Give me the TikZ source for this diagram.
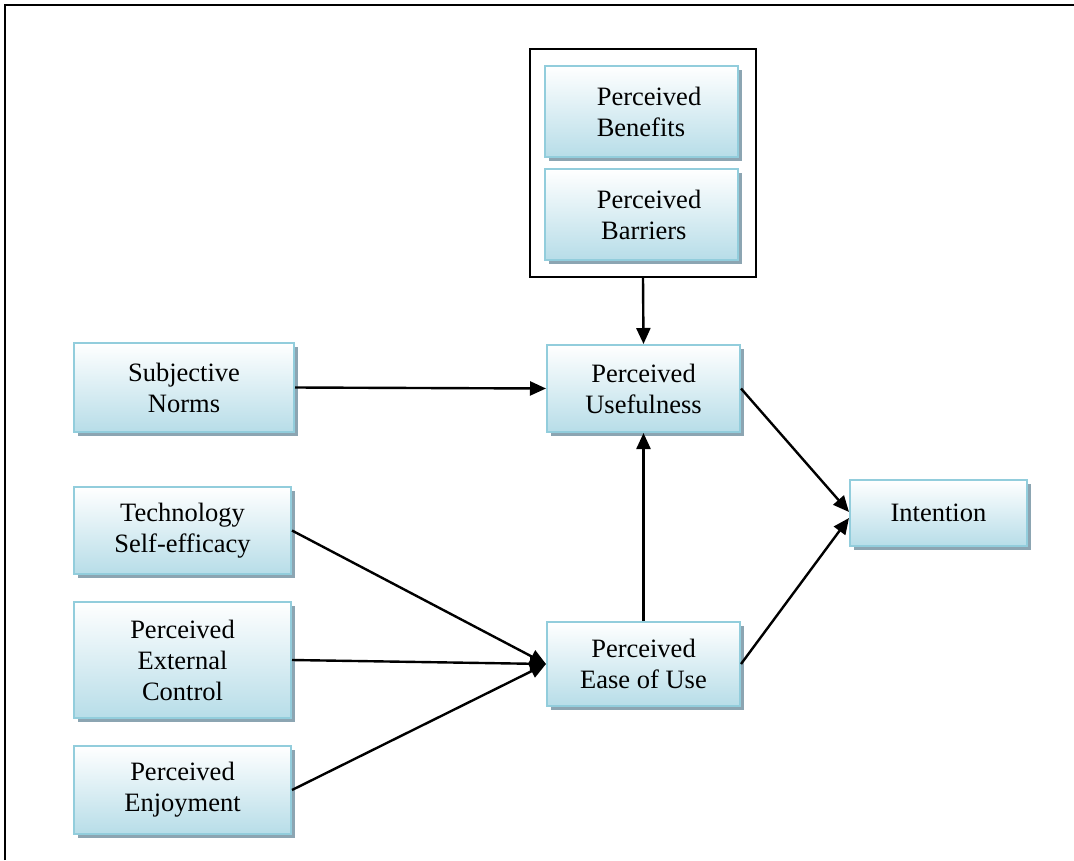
\documentclass[tikz,border=0pt]{standalone}
\usepackage{fontspec}
\setmainfont{Liberation Serif}
\usetikzlibrary{arrows.meta,shadows}
\definecolor{boxborder}{RGB}{146,205,220}
\definecolor{boxfill}{RGB}{183,221,232}
\definecolor{boxshadow}{RGB}{140,165,178}
\newcommand{\indl}{\hspace*{15pt}}
\tikzset{
  factor/.style={draw=boxborder, line width=2pt, top color=white, bottom color=boxfill,
    drop shadow={shadow xshift=4pt, shadow yshift=-4pt, fill=boxshadow, opacity=1},
    align=center, inner sep=0pt, font=\fontsize{26.5}{31}\selectfont},
  link/.style={line width=2.4pt, -{Triangle[length=16pt,width=14pt]}},
  group/.style={draw=black, line width=2pt, inner sep=0pt}
}
\begin{document}
\begin{tikzpicture}[x=1pt,y=-1pt]
\useasboundingbox (0,0) rectangle (1074,860);
% frame
\draw[line width=2pt] (5,860) -- (5,5) -- (1074,5);

% grouped antecedents
\node[group, minimum width=226pt, minimum height=228pt] (grp) at (643,163) {};
\node[factor, align=left, minimum width=193pt, minimum height=91pt] (ben) at (641.5,111.5) {\indl Perceived\\\indl Benefits};
\node[factor, align=left, minimum width=193pt, minimum height=91pt] (bar) at (641.5,214.5) {\indl Perceived\\\indl\,Barriers};

% factors
\node[factor, minimum width=220pt, minimum height=89pt] (sn) at (184,387.5) {Subjective\\Norms};
\node[factor, minimum width=193pt, minimum height=87pt] (pu) at (643.5,388.5) {Perceived\\Usefulness};
\node[factor, minimum width=217pt, minimum height=87pt] (tse) at (182.5,530.5) {Technology\\Self-efficacy};
\node[factor, minimum width=217pt, minimum height=116pt] (pec) at (182.5,660) {Perceived\\External\\Control};
\node[factor, minimum width=217pt, minimum height=88pt] (pe) at (182.5,790) {Perceived\\Enjoyment};
\node[factor, minimum width=193pt, minimum height=84pt] (peou) at (643.5,664) {Perceived\\Ease of Use};
\node[factor, minimum width=177pt, minimum height=66pt] (int) at (938.5,513) {Intention};

% paths
\draw[link] (grp.south) -- (pu.north);
\draw[link] (sn.east) -- (pu.west);
\draw[link] (peou.north) -- (pu.south);
\draw[link] (pu.east) -- ([yshift=1pt]int.west);
\draw[link] (peou.east) -- ([yshift=-5pt]int.west);
\draw[link] (tse.east) -- (peou.west);
\draw[link] (pec.east) -- (peou.west);
\draw[link] (pe.east) -- (peou.west);
\end{tikzpicture}
\end{document}
